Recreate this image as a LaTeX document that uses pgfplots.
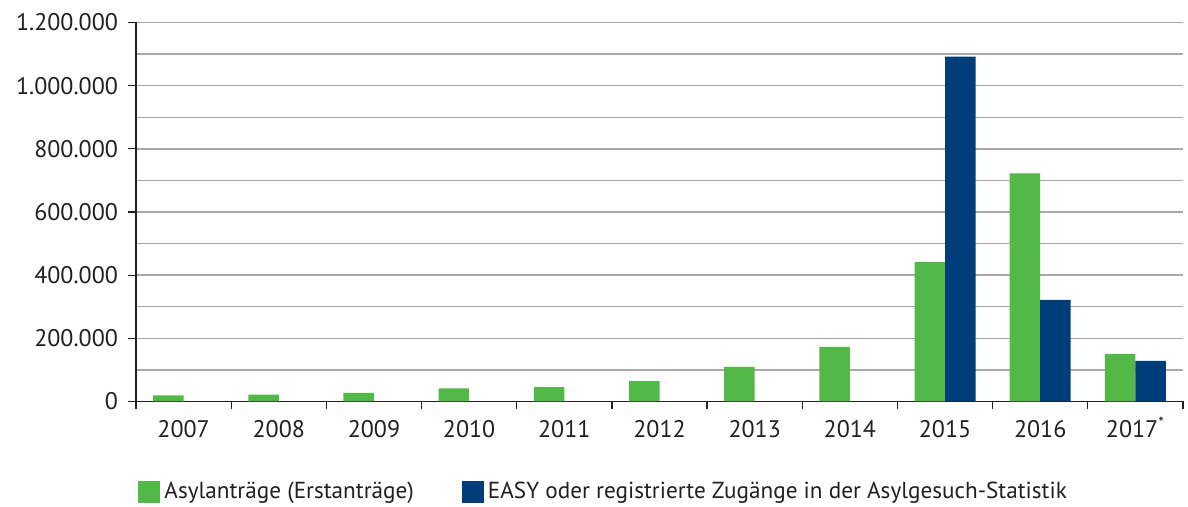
\documentclass[border=0pt]{standalone}
\usepackage{pgfplots}
\pgfplotsset{compat=1.18}
\usepackage{fontspec}
\setmainfont{PT Sans}
\definecolor{grn}{HTML}{52B848}
\definecolor{blu}{HTML}{003D79}
\definecolor{txt}{HTML}{231F20}
\definecolor{grd}{HTML}{A9A9A9}
\begin{document}
\begin{tikzpicture}
\begin{axis}[
  scale only axis, width=523.5pt, height=189.5pt,
  xmin=-0.5, xmax=10.5, ymin=0, ymax=1200000,
  axis lines=left, axis line style={-, draw=txt, line width=0.6pt},
  tick align=outside, major tick length=4pt, minor tick length=4pt,
  xtick={0,...,10},
  xticklabels={2007,2008,2009,2010,2011,2012,2013,2014,2015,2016,2017\smash{\textsuperscript{*}}},
  minor xtick={-0.5,0.5,...,10.5},
  major x tick style={draw=none},
  minor x tick style={draw=txt, line width=0.6pt},
  ytick={0,200000,400000,600000,800000,1000000,1200000},
  yticklabels={0,200.000,400.000,600.000,800.000,1.000.000,1.200.000},
  minor ytick={100000,300000,500000,700000,900000,1100000},
  minor y tick style={draw=none},
  major y tick style={draw=txt, line width=0.6pt},
  ymajorgrids, yminorgrids,
  major grid style={draw=grd, line width=0.7pt},
  minor grid style={draw=grd, line width=0.7pt},
  scaled y ticks=false,
  tick label style={font=\fontsize{12}{14}\selectfont, text=txt},
  xticklabel style={yshift=-2pt, text height=8.5pt, text depth=0pt},
  yticklabel style={xshift=-1.5pt},
  ybar=0pt, bar width=15.25pt,
  legend columns=2,
  legend style={draw=none, at={(axis description cs:0.002,-0.2375)}, anchor=west, inner sep=0pt,
    font=\fontsize{11.6}{13.5}\selectfont, text=txt,
    /tikz/every even column/.append style={column sep=22pt}},
  legend image code/.code={\fill[#1] (0pt,-5.5pt) rectangle (11pt,5.5pt);},
]
\addplot[fill=grn, draw=none] coordinates {
 (0,19164) (1,22085) (2,27649) (3,41332) (4,45741) (5,64539) (6,109580) (7,173072) (8,441899) (9,722370) (10,151000)};
\addlegendentry{Asylanträge (Erstanträge)}
\addplot[fill=blu, draw=none] coordinates {
 (8,1091894) (9,321371) (10,128500)};
\addlegendentry{EASY oder registrierte Zugänge in der Asylgesuch-Statistik}
\end{axis}
\path ([xshift=-68pt,yshift=-52.7pt]current axis.south west) rectangle ([xshift=2.5pt,yshift=11.25pt]current axis.north east);
\end{tikzpicture}
\end{document}
